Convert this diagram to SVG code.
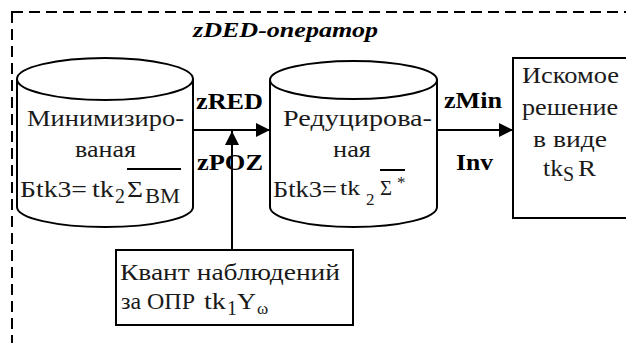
<svg xmlns="http://www.w3.org/2000/svg" width="626" height="343" viewBox="0 0 626 343">
<style>
.s{fill:none;stroke:#000;stroke-width:2}
.w{fill:#fff;stroke:#000;stroke-width:2}
text{font-family:'Liberation Serif','Times New Roman','Liberation Sans',sans-serif;fill:#1a1a1a}
.t{font-size:24px}
.u{font-size:20px}
.v{font-size:17px}
.b{font-size:24px;font-weight:bold;fill:#000}
</style>
<defs>
<marker id="ah" markerWidth="14" markerHeight="14" refX="14" refY="7" orient="auto" markerUnits="userSpaceOnUse">
<path d="M0,0 L14,7 L0,14 Z" fill="#000"/>
</marker>
</defs>
<rect x="12" y="12" width="640" height="360" fill="none" stroke="#000" stroke-width="2" stroke-dasharray="11,6"/>
<text x="193" y="37" font-size="22" font-weight="bold" font-style="italic" style="fill:#000" textLength="185" lengthAdjust="spacingAndGlyphs">zDED-оператор</text>

<g id="cyl1">
<path class="w" d="M17,79 V207 A88,20 0 0 0 193,207 V79"/>
<ellipse class="w" cx="105" cy="79" rx="88" ry="21"/>
<text class="t" x="27" y="126" textLength="157" lengthAdjust="spacingAndGlyphs">Минимизиро-</text>
<text class="t" x="75" y="157" textLength="61" lengthAdjust="spacingAndGlyphs">ваная</text>
<text class="t" x="20" y="197" textLength="67" lengthAdjust="spacingAndGlyphs">Бtk3=</text>
<text class="t" x="92" y="197" textLength="22" lengthAdjust="spacingAndGlyphs">tk</text>
<text class="u" x="115" y="203">2</text>
<text class="t" x="127" y="197" textLength="16" lengthAdjust="spacingAndGlyphs">Σ</text>
<text class="u" x="145" y="203" textLength="35" lengthAdjust="spacingAndGlyphs">ВМ</text>
<line class="s" x1="127" y1="169" x2="181" y2="169" stroke-width="1.5"/>
</g>

<g id="cyl2">
<path class="w" d="M270,80 V207 A83.5,20 0 0 0 437,207 V80"/>
<ellipse class="w" cx="353.5" cy="80" rx="83.5" ry="19"/>
<text class="t" x="283" y="126" textLength="149" lengthAdjust="spacingAndGlyphs">Редуцирова-</text>
<text class="t" x="333" y="157" textLength="38" lengthAdjust="spacingAndGlyphs">ная</text>
<text class="t" x="273" y="197" textLength="64" lengthAdjust="spacingAndGlyphs">Бtk3=</text>
<text class="u" x="340" y="195" textLength="20" lengthAdjust="spacingAndGlyphs">tk</text>
<text class="v" x="366" y="205">2</text>
<text class="u" x="380" y="195" textLength="12" lengthAdjust="spacingAndGlyphs">Σ</text>
<text class="v" x="397" y="188">*</text>
<line class="s" x1="380" y1="170" x2="405" y2="170" stroke-width="1.5"/>
</g>

<g id="result">
<rect class="w" x="513" y="58" width="120" height="160"/>
<text class="t" x="522" y="83" textLength="97" lengthAdjust="spacingAndGlyphs">Искомое</text>
<text class="t" x="522" y="115" textLength="96" lengthAdjust="spacingAndGlyphs">решение</text>
<text class="t" x="533" y="147" textLength="74" lengthAdjust="spacingAndGlyphs">в виде</text>
<text class="t" x="543" y="176" textLength="20" lengthAdjust="spacingAndGlyphs">tk</text>
<text class="u" x="563" y="181">S</text>
<text class="t" x="578" y="176" textLength="18" lengthAdjust="spacingAndGlyphs">R</text>
</g>

<g id="quant">
<rect class="w" x="116" y="250" width="237" height="75"/>
<text class="t" x="120" y="280" textLength="220" lengthAdjust="spacingAndGlyphs">Квант наблюдений</text>
<text class="t" x="121" y="309" textLength="74" lengthAdjust="spacingAndGlyphs">за ОПР</text>
<text class="t" x="204" y="309" textLength="22" lengthAdjust="spacingAndGlyphs">tk</text>
<text class="u" x="227" y="315">1</text>
<text class="t" x="237" y="309" textLength="19" lengthAdjust="spacingAndGlyphs">Y</text>
<text class="v" x="257" y="314">ω</text>
</g>

<g id="connectors">
<line class="s" x1="193" y1="130" x2="270" y2="130" marker-end="url(#ah)"/>
<line class="s" x1="232" y1="250" x2="232" y2="131" marker-end="url(#ah)"/>
<line class="s" x1="437" y1="130" x2="513" y2="130" marker-end="url(#ah)"/>
<text class="b" x="196" y="109" textLength="67" lengthAdjust="spacingAndGlyphs">zRED</text>
<text class="b" x="197" y="170" textLength="66" lengthAdjust="spacingAndGlyphs">zPOZ</text>
<text class="b" x="444" y="108" textLength="58" lengthAdjust="spacingAndGlyphs">zMin</text>
<text class="b" x="456" y="170" textLength="37" lengthAdjust="spacingAndGlyphs">Inv</text>
</g>
</svg>
